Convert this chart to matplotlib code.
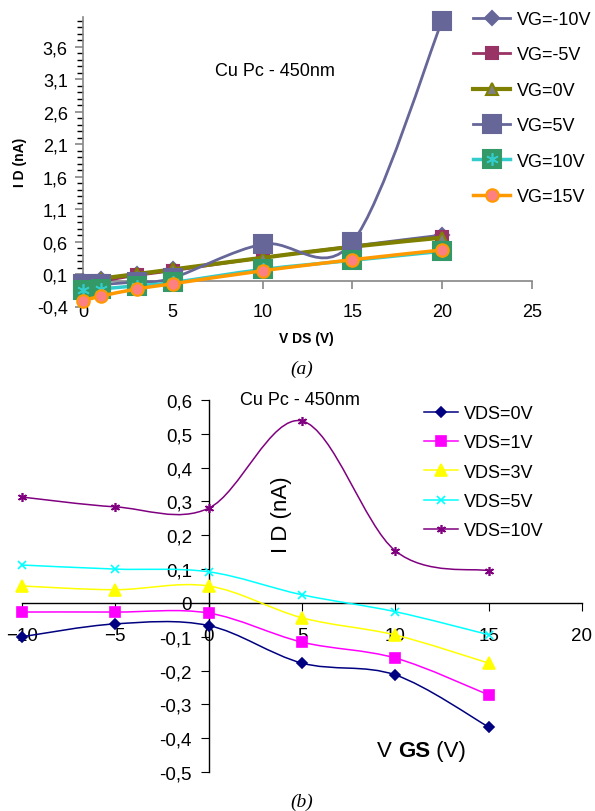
import numpy as np
import matplotlib
matplotlib.use("Agg")
import matplotlib.pyplot as plt
from matplotlib.path import Path
from matplotlib.patches import PathPatch
from matplotlib.lines import Line2D
from matplotlib.ticker import FuncFormatter, MultipleLocator, FixedLocator

plt.rcParams["font.family"] = ["Liberation Sans", "DejaVu Sans"]

# ---- (a) I_D vs V_DS for several gate voltages ----
vds = [0, 1, 3, 5, 10, 15, 20]
vg_labels = ["VG=-10V", "VG=-5V", "VG=0V", "VG=5V", "VG=10V", "VG=15V"]
id_vg_m10 = [0.00, 0.03, 0.10, 0.17, 0.35, 0.53, 0.70]
id_vg_m5 = [-0.02, -0.01, 0.08, 0.15, 0.35, 0.52, 0.67]
id_vg_0 = [0.00, 0.03, 0.10, 0.17, 0.35, 0.52, 0.66]
id_vg_5 = [-0.05, -0.06, -0.02, 0.04, 0.56, 0.59, 4.00]
id_vg_10 = [-0.15, -0.13, -0.08, -0.03, 0.17, 0.31, 0.45]
id_vg_15 = [-0.31, -0.24, -0.13, -0.05, 0.15, 0.32, 0.47]

# ---- (b) I_D vs V_GS for several drain voltages ----
vgs = [-10, -5, 0, 5, 10, 15]
vds_labels = ["VDS=0V", "VDS=1V", "VDS=3V", "VDS=5V", "VDS=10V"]
id_vds_0 = [-0.100, -0.062, -0.067, -0.178, -0.213, -0.367]
id_vds_1 = [-0.027, -0.027, -0.030, -0.116, -0.163, -0.272]
id_vds_3 = [0.050, 0.039, 0.050, -0.044, -0.095, -0.178]
id_vds_5 = [0.112, 0.100, 0.092, 0.024, -0.026, -0.094]
id_vds_10 = [0.313, 0.284, 0.280, 0.538, 0.154, 0.095]


def smooth_path(x, y):
    # Excel style smoothed line: cubic bezier through each point
    pts = np.column_stack([x, y]).astype(float)
    n = len(pts)
    verts = [pts[0]]
    codes = [Path.MOVETO]
    for i in range(n - 1):
        p0 = pts[max(i - 1, 0)]
        p1 = pts[i]
        p2 = pts[i + 1]
        p3 = pts[min(i + 2, n - 1)]
        verts += [p1 + (p2 - p0) / 6, p2 - (p3 - p1) / 6, p2]
        codes += [Path.CURVE4] * 3
    return Path(verts, codes)


def comma_fmt(v, pos):
    if abs(v) < 1e-9:
        return "0"
    return f"{v:.1f}".replace(".", ",")


fig = plt.figure(figsize=(5.95, 8.12), dpi=100)

# ================= top panel =================
ax1 = fig.add_axes([83 / 595, 1 - 307.5 / 812, 449 / 595, (307.5 - 18.3) / 812])
ax1.set_xlim(0, 25)
ax1.set_ylim(-0.4, 4.05)
ax1.patch.set_alpha(0)

styles_a = [
    # line color, lw, marker, size, face, edge
    ("#666699", 2.0, "D", 7, "#666699", "#666699"),
    ("#993366", 2.0, "s", 8.5, "#993366", "#993366"),
    ("#808000", 3.0, "^", 9, "#808080", "#808000"),
    ("#666699", 2.0, "s", 13, "#666699", "#666699"),
    ("#33cccc", 2.5, "s", 13, "#339966", "#339966"),
    ("#ff9900", 2.5, "o", 9, "#ff8080", "#ff9900"),
]
series_a = [id_vg_m10, id_vg_m5, id_vg_0, id_vg_5, id_vg_10, id_vg_15]
handles_a = []
for k, (ys, st) in enumerate(zip(series_a, styles_a)):
    col, lw, mk, ms, fc, ec = st
    z = 3 + k
    ax1.add_patch(PathPatch(smooth_path(vds, ys), fill=False, edgecolor=col,
                            lw=lw, zorder=z))
    ax1.plot(vds, ys, ls="none", marker=mk, ms=ms, mfc=fc, mec=ec, mew=1.5,
             zorder=z + 0.5, clip_on=False)
    h = Line2D([], [], color=col, lw=lw, marker=mk, ms=ms, mfc=fc, mec=ec, mew=1.5)
    if k == 4:
        ax1.plot(vds, ys, ls="none", marker=(6, 2, 0), ms=9, mec="#33cccc",
                 mew=1.2, zorder=z + 0.6, clip_on=False)
        h = (h, Line2D([], [], ls="none", marker=(6, 2, 0), ms=9,
                       mec="#33cccc", mew=1.2))
    handles_a.append(h)

for s in ["top", "right"]:
    ax1.spines[s].set_visible(False)
ax1.spines["bottom"].set_position(("data", 0))
for s in ["left", "bottom"]:
    ax1.spines[s].set_color("#868686")
    ax1.spines[s].set_linewidth(1.2)
ax1.xaxis.set_major_locator(MultipleLocator(5))
ax1.yaxis.set_major_locator(FixedLocator(np.arange(-0.4, 3.7, 0.5)))
ax1.yaxis.set_minor_locator(FixedLocator(np.arange(-0.4, 4.05, 0.1)))
ax1.yaxis.set_major_formatter(FuncFormatter(comma_fmt))
ax1.tick_params(axis="both", direction="out", colors="#868686",
                labelcolor="black", labelsize=13, width=1.2)
ax1.tick_params(axis="x", length=6, pad=10)
ax1.tick_params(axis="y", which="major", length=6, pad=5)
ax1.tick_params(axis="y", which="minor", length=4, width=1.0)

fig.legend(handles_a, vg_labels, loc="upper left",
           bbox_to_anchor=(473 / 595, 1 - 12 / 812), frameon=False,
           fontsize=13, handlelength=2.05, handletextpad=0.4,
           labelspacing=1.02, borderpad=0, borderaxespad=0)

fig.text(215 / 595, 1 - 72 / 812, "Cu Pc - 450nm", fontsize=13,
         ha="left", va="center")
fig.text(20 / 595, 1 - 162 / 812, "I D (nA)", rotation=90, fontsize=10,
         fontweight="bold", ha="center", va="center")
fig.text(306 / 595, 1 - 339 / 812, "V DS (V)", fontsize=10,
         fontweight="bold", ha="center", va="center")
fig.text(302 / 595, 1 - 369 / 812, "(a)", fontsize=14, style="italic",
         family=["Liberation Serif", "DejaVu Serif"], ha="center", va="center")

# ================= bottom panel =================
ax2 = fig.add_axes([22 / 595, 1 - 773 / 812, 560 / 595, 372 / 812])
ax2.set_xlim(-10, 20)
ax2.set_ylim(-0.5, 0.6)
ax2.patch.set_alpha(0)

styles_b = [
    ("#000080", "D", 5, "#000080"),
    ("#ff00ff", "s", 6.5, "#ff00ff"),
    ("#ffff00", "^", 8, "#ffff00"),
    ("#00ffff", "x", 5.5, "#00ffff"),
    ("#800080", (6, 2, 0), 6.5, "#800080"),
]
series_b = [id_vds_0, id_vds_1, id_vds_3, id_vds_5, id_vds_10]
handles_b = []
for k, (ys, st) in enumerate(zip(series_b, styles_b)):
    col, mk, ms, fc = st
    ax2.add_patch(PathPatch(smooth_path(vgs, ys), fill=False, edgecolor=col,
                            lw=1.1, zorder=3 + k))
    ax2.plot(vgs, ys, ls="none", marker=mk, ms=ms, mfc=fc, mec=col, mew=1.2,
             zorder=3.5 + k, clip_on=False)
    handles_b.append(Line2D([], [], color=col, lw=1.1, marker=mk, ms=ms,
                            mfc=fc, mec=col, mew=1.2))

for s in ["top", "right"]:
    ax2.spines[s].set_visible(False)
ax2.spines["bottom"].set_position(("data", 0))
ax2.spines["left"].set_position(("data", 0))
for s in ["left", "bottom"]:
    ax2.spines[s].set_color("black")
    ax2.spines[s].set_linewidth(1.0)
ax2.xaxis.set_major_locator(MultipleLocator(5))
ax2.yaxis.set_major_locator(FixedLocator(np.arange(-0.5, 0.65, 0.1)))
ax2.yaxis.set_major_formatter(FuncFormatter(comma_fmt))
ax2.tick_params(axis="both", direction="out", labelsize=13.5, length=6)
ax2.tick_params(axis="x", pad=11)
ax2.tick_params(axis="y", pad=6)

fig.legend(handles_b, vds_labels, loc="upper left",
           bbox_to_anchor=(424 / 595, 1 - 406 / 812), frameon=False,
           fontsize=13, handlelength=1.9, handletextpad=0.3,
           labelspacing=0.68, borderpad=0, borderaxespad=0)

fig.text(240 / 595, 1 - 401 / 812, "Cu Pc - 450nm", fontsize=13,
         ha="left", va="center")
fig.text(281 / 595, 1 - 515 / 812, "I D (nA)", rotation=90, fontsize=16,
         ha="center", va="center")
# x label with bold subscript-like "GS"
t1 = fig.text(377 / 595, 1 - 757 / 812, "V ", fontsize=16, ha="left",
              va="baseline")
t2 = ax2.annotate("GS", xy=(1, 0), xycoords=t1, fontsize=16,
                  fontweight="bold", ha="left", va="bottom")
ax2.annotate(" (V)", xy=(1, 0), xycoords=t2, fontsize=16,
             ha="left", va="bottom")
fig.text(302 / 595, 1 - 802 / 812, "(b)", fontsize=14, style="italic",
         family=["Liberation Serif", "DejaVu Serif"], ha="center", va="center")

fig.savefig("out.png", dpi=100)
